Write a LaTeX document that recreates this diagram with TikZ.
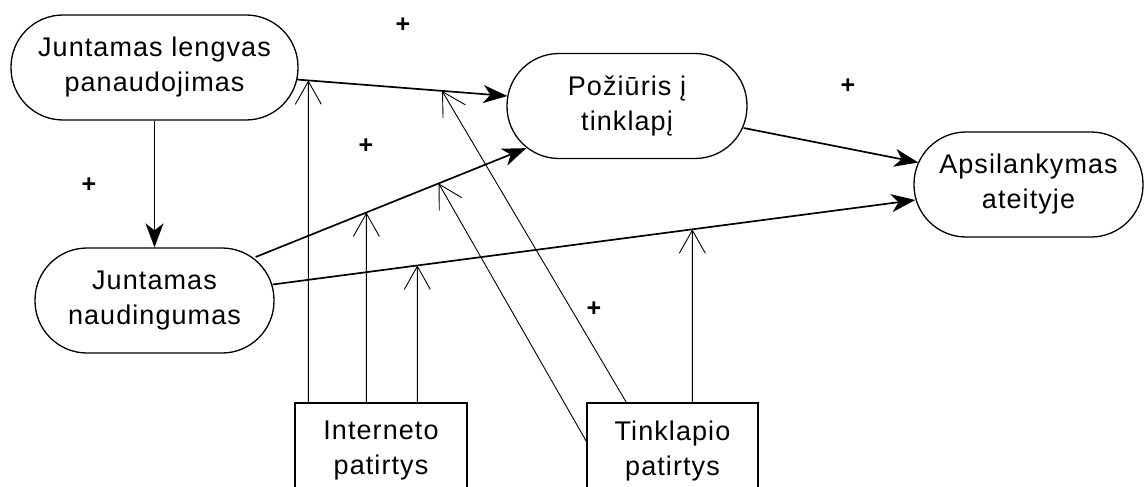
\documentclass[tikz,border=0pt]{standalone}
\usepackage{fontspec}
\setmainfont{Liberation Sans}[LetterSpace=4.0]
\usetikzlibrary{arrows.meta,calc}
\newcommand{\txtsz}{\fontsize{27}{35}\selectfont}
\newcommand{\signsz}{\fontsize{25}{28}\selectfont\bfseries}
\begin{document}
\begin{tikzpicture}[x=1pt,y=-1pt,
  stadium/.style={draw, line width=1.3pt, rounded corners=52pt, minimum height=105pt,
                  inner sep=0pt, align=center, font=\txtsz},
  boxnode/.style={draw, line width=1.3pt, minimum height=96pt, inner sep=0pt,
                  align=center, font=\txtsz},
  mainarrow/.style={line width=1.7pt, -{Stealth[length=24pt,width=18pt,inset=7pt]}},
  modarrow/.style={line width=0.9pt, -{Straight Barb[length=23pt,width=26pt]}},
  sign/.style={font=\signsz, inner sep=0pt}]

% page frame
\useasboundingbox (0,0) rectangle (1146,487);
\fill[white] (0,0) rectangle (1146,487);
\clip (0,0) rectangle (1146,487);

% constructs
\node[stadium, minimum width=287pt] (A) at (154.5,67.5) {Juntamas lengvas\\panaudojimas};
\node[stadium, minimum width=240pt] (B) at (627,106) {Požiūris į\\tinklapį};
\node[stadium, minimum width=229pt] (C) at (1028.5,184.5) {Apsilankymas\\ateityje};
\node[stadium, minimum width=239pt] (D) at (154.5,300.5) {Juntamas\\naudingumas};
\node[boxnode, minimum width=172pt] (E) at (381,451) {Interneto\\patirtys};
\node[boxnode, minimum width=171pt] (F) at (672.5,451) {Tinklapio\\patirtys};

% ends of the main paths on the node borders
\coordinate (ab1) at ([xshift=-2pt,yshift=-12pt]A.east);
\coordinate (ab2) at ([xshift=1pt,yshift=10pt]B.west);
\coordinate (db1) at ([xshift=-19pt,yshift=43.5pt]D.east);
\coordinate (db2) at ([xshift=20pt,yshift=11pt]B.south west);
\coordinate (dc1) at ([xshift=-2pt,yshift=16pt]D.east);
\coordinate (dc2) at ([xshift=2pt,yshift=-15.5pt]C.west);
\coordinate (bc1) at ([xshift=-4pt,yshift=-22pt]B.east);
\coordinate (bc2) at ([xshift=5pt,yshift=22pt]C.west);

% main relations
\draw[mainarrow] (ab1) -- (ab2);
\draw[mainarrow] (A.south) -- (D.north);
\draw[mainarrow] (db1) -- (db2);
\draw[mainarrow] (dc1) -- (dc2);
\draw[mainarrow] (bc1) -- (bc2);

% moderating influences
\coordinate (e1) at ([xshift=14pt]E.north west);
\coordinate (e2) at ([xshift=72pt]E.north west);
\coordinate (e3) at ([xshift=123pt]E.north west);
\coordinate (f1) at ([xshift=106pt]F.north west);
\coordinate (f2) at ([xshift=40pt]F.north west);
\coordinate (f3) at ([yshift=-39pt]F.north west);
\coordinate (e1u) at ([yshift=400pt]e1);
\coordinate (e2u) at ([yshift=400pt]e2);
\coordinate (e3u) at ([yshift=400pt]e3);
\coordinate (f1u) at ([yshift=400pt]f1);

\draw[modarrow] (e1) -- (intersection of e1--e1u and ab1--ab2);
\draw[modarrow] (e2) -- (intersection of e2--e2u and db1--db2);
\draw[modarrow] (e3) -- (intersection of e3--e3u and dc1--dc2);
\draw[modarrow] (f1) -- (intersection of f1--f1u and dc1--dc2);
\draw[modarrow] (f2) -- ($(ab1)!0.69!(ab2)$);
\draw[modarrow] (f3) -- ($(db1)!0.676!(db2)$);

% signs of the effects
\node[sign] (s1) at (403,25) {+};
\node[sign] (s2) at (366,146) {+};
\node[sign] (s3) at (89,185) {+};
\node[sign] (s4) at (848,86) {+};
\node[sign] (s5) at (594,309) {+};
\end{tikzpicture}
\end{document}
